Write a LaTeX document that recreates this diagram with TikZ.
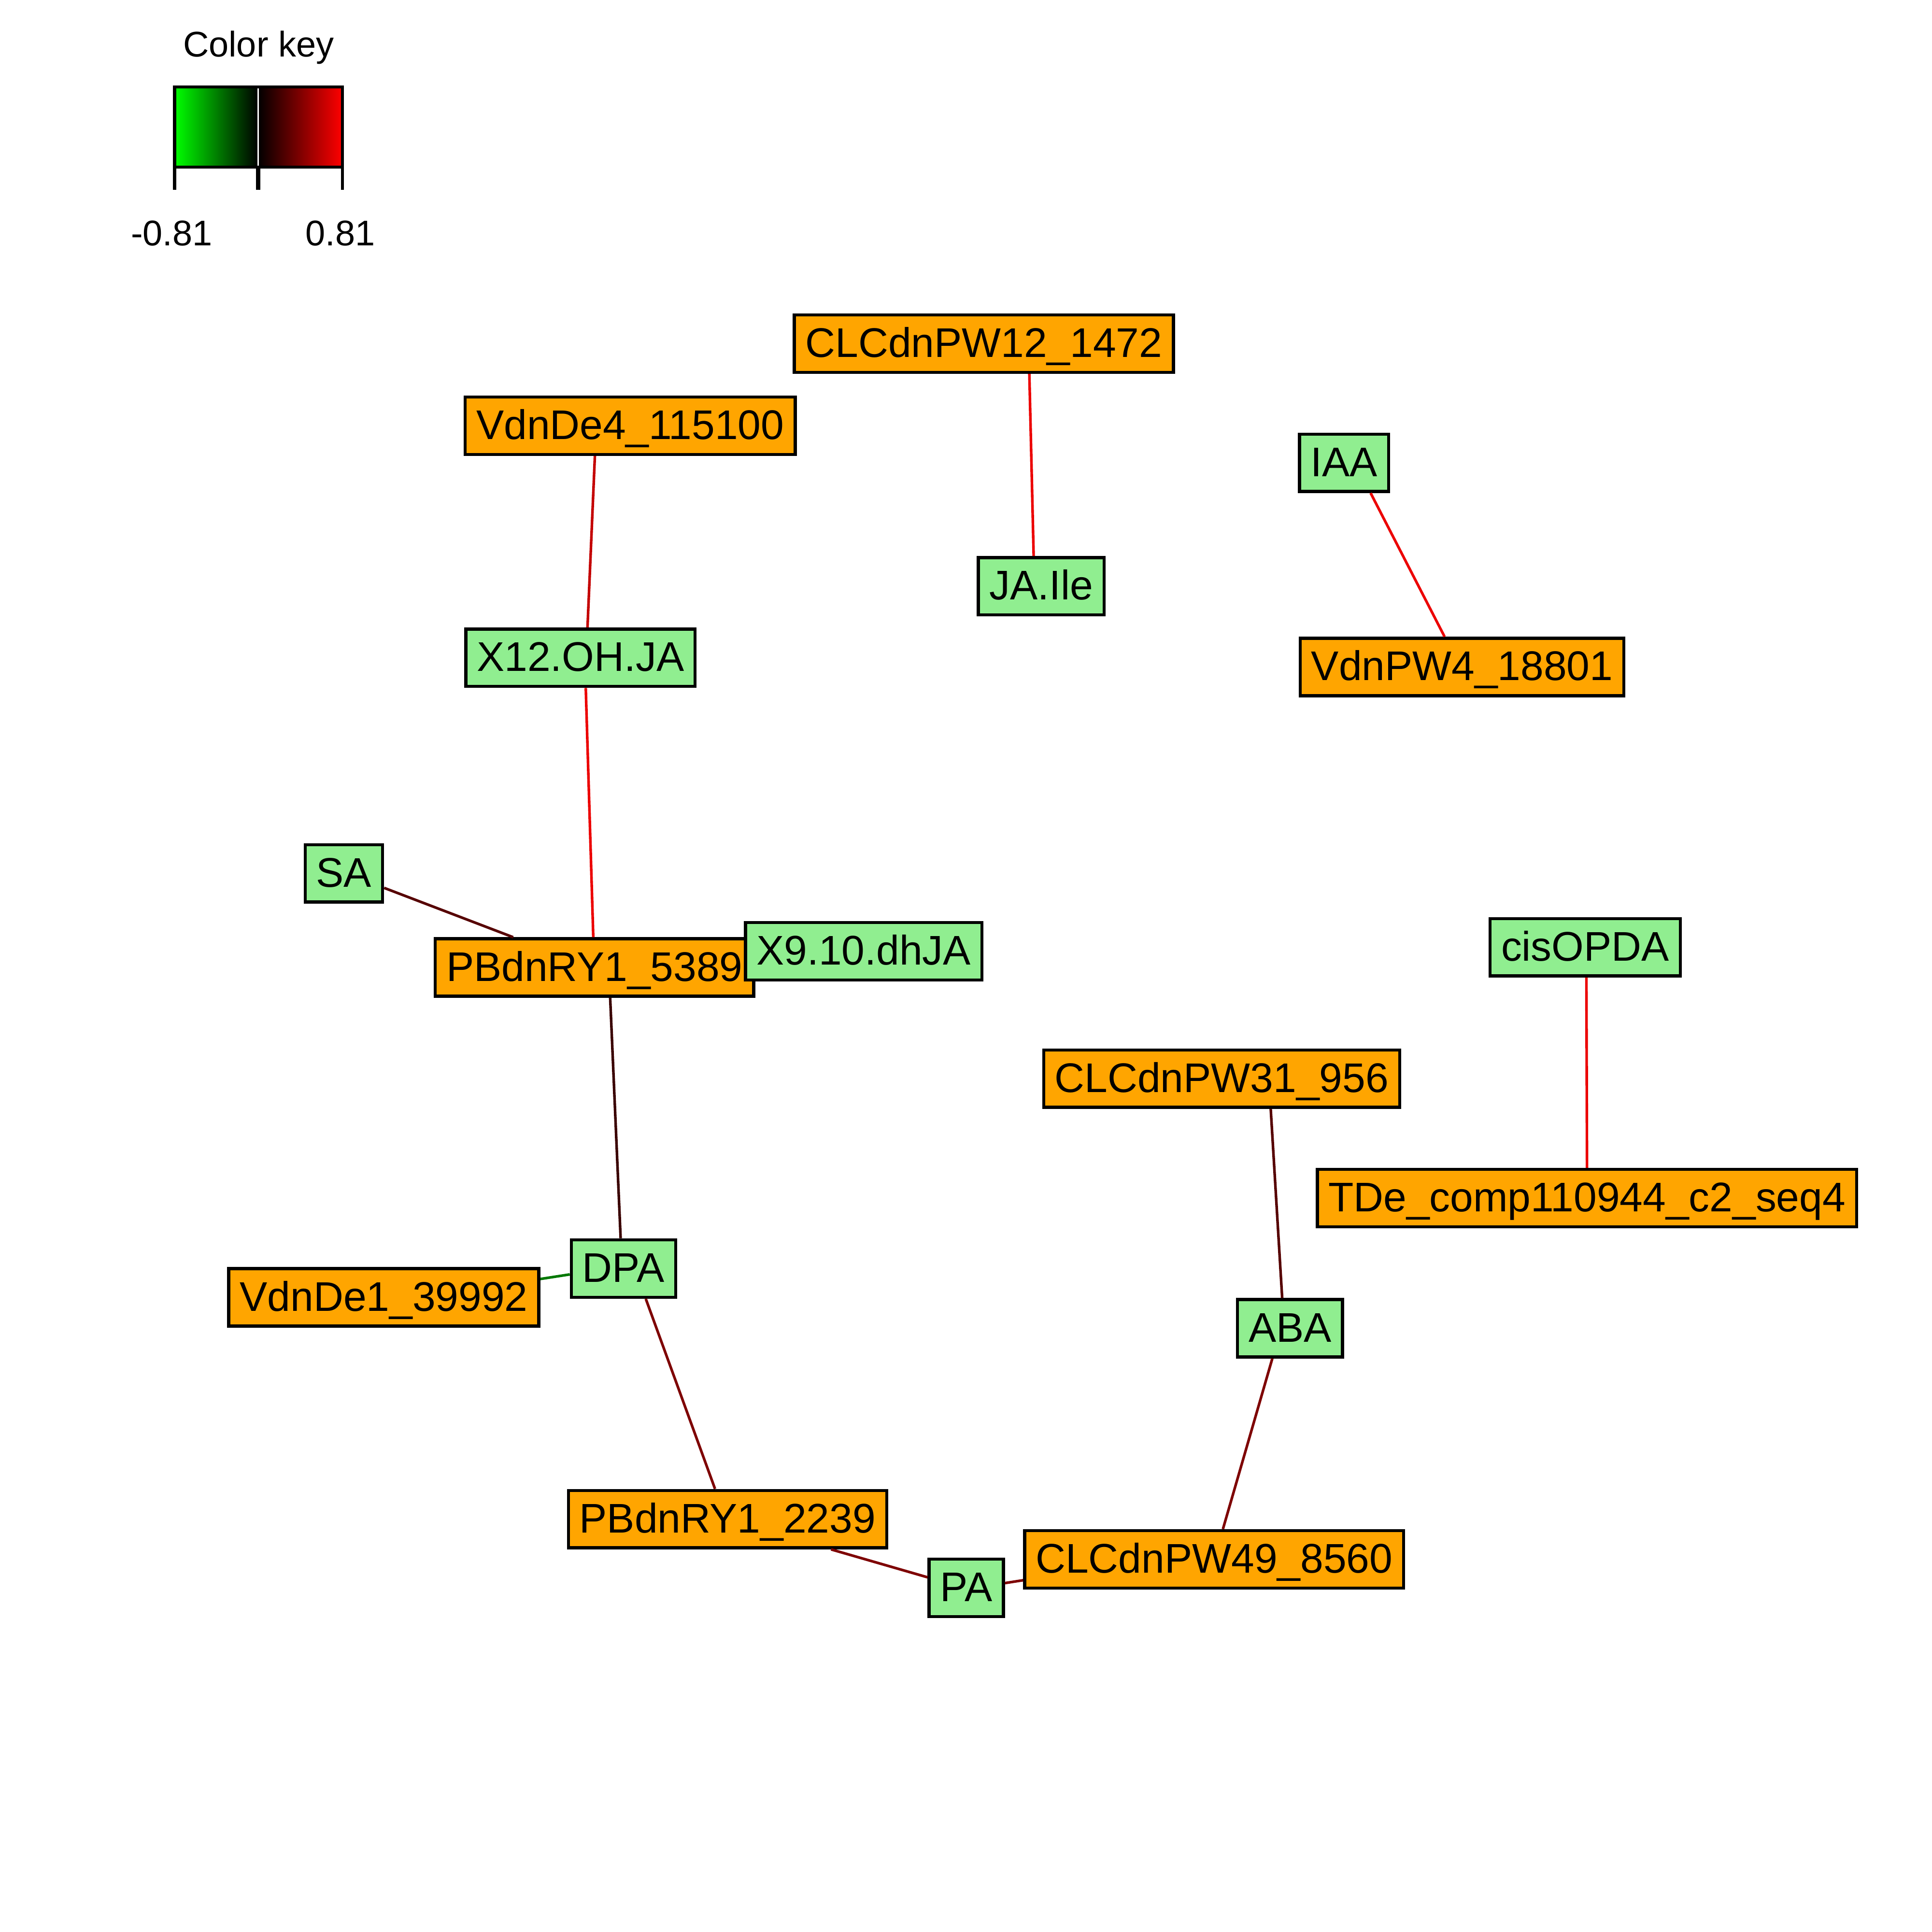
\documentclass[tikz,border=0pt]{standalone}
\usepackage{fontspec}
\setmainfont{Liberation Sans}
\usetikzlibrary{calc}
\definecolor{geneorange}{HTML}{FFA500}
\definecolor{metabgreen}{HTML}{90EE90}
\definecolor{keygreen}{HTML}{00FF00}
\definecolor{keyred}{HTML}{FF0000}
\definecolor{corrhigh}{HTML}{EC0000}
\definecolor{corrmidhigh}{HTML}{C40000}
\definecolor{corrmid}{HTML}{7E0000}
\definecolor{corrlow}{HTML}{560000}
\definecolor{corrvlow}{HTML}{3A0000}
\definecolor{corrneg}{HTML}{007800}
\begin{document}
\begin{tikzpicture}[x=0.025cm,y=-0.025cm,
  box/.style={draw=black, line width=1.8pt, rectangle,
    inner xsep=0.225cm, inner ysep=0.215cm,
    text height=0.6425cm, text depth=0.0925cm,
    font=\fontsize{23.9}{28}\selectfont},
  gene/.style={box, fill=geneorange},
  metab/.style={box, fill=metabgreen},
  link/.style={line width=1.5pt},
  keytext/.style={inner sep=0pt, font=\fontsize{20.6}{24}\selectfont},
]
\fill[white] (0,0) rectangle (1568,1568);
\useasboundingbox (0,0) rectangle (1568,1568);

% colour key
\shade[left color=keygreen, right color=black] (141.7,70.5) rectangle (209.4,135.5);
\shade[left color=black, right color=keyred] (209.4,70.5) rectangle (278,135.5);
\draw[white, line width=0.03cm] (209.4,70.5) -- (209.4,135.5);
\draw[line width=0.06cm] (141.7,70.5) rectangle (278,135.5);
\draw[line width=0.06cm] (141.7,135.5) -- (141.7,154);
\draw[line width=0.09cm] (209.4,135.5) -- (209.4,154);
\draw[line width=0.06cm] (278,135.5) -- (278,154);
\node[keytext, anchor=base] (keytitle) at (209.8,46.2) {Color key};
\node[keytext, anchor=base] (keymin) at (139.3,199.5) {-0.81};
\node[keytext, anchor=base] (keymax) at (276.2,199.5) {0.81};

% network nodes
\node[gene]  (clc12)   at (798.5,278.9)  {CLCdnPW12\_1472};
\node[gene]  (vde4)    at (511.5,345.5)  {VdnDe4\_115100};
\node[metab] (iaa)     at (1090.8,375.6) {IAA};
\node[metab] (jaile)   at (845,475.8)    {JA.Ile};
\node[metab] (x12)     at (471.1,533.8)  {X12.OH.JA};
\node[gene]  (vpw4)    at (1186.6,541.3) {VdnPW4\_18801};
\node[metab] (sa)      at (279.1,708.8)  {SA};
\node[gene]  (pb5389)  at (482.5,785.2)  {PBdnRY1\_5389};
\node[metab] (x9)      at (701,772)      {X9.10.dhJA};
\node[metab] (cisopda) at (1286.5,768.8) {cisOPDA};
\node[gene]  (clc31)   at (991.5,875.4)  {CLCdnPW31\_956};
\node[gene]  (tde)     at (1288,972.4)   {TDe\_comp110944\_c2\_seq4};
\node[metab] (dpa)     at (506,1029.5)   {DPA};
\node[gene]  (vde1)    at (311.5,1052.9) {VdnDe1\_39992};
\node[metab] (aba)     at (1047,1078)    {ABA};
\node[gene]  (pb2239)  at (590.5,1232.9) {PBdnRY1\_2239};
\node[metab] (pa)      at (784.2,1288.7) {PA};
\node[gene]  (clc49)   at (985.4,1265.6) {CLCdnPW49\_8560};

% correlation links
\draw[link, corrhigh]    ($(clc12.south)+(36.9,0)$)  -- ($(jaile.north)+(-6.1,0)$);
\draw[link, corrmidhigh] ($(vde4.south)+(-28.7,0)$)  -- ($(x12.north)+(5.7,0)$);
\draw[link, corrhigh]    ($(iaa.south)+(21.6,0)$)    -- ($(vpw4.north)+(-14.2,0)$);
\draw[link, corrhigh]    ($(x12.south)+(4.3,0)$)     -- ($(pb5389.north)+(-1,0)$);
\draw[link, corrlow]     ($(sa.east)+(0,11.8)$)      -- ($(pb5389.north)+(-66,0)$);
\draw[link, corrvlow]    ($(pb5389.south)+(12.7,0)$) -- ($(dpa.north)+(-2.3,0)$);
\draw[link, corrhigh]    ($(cisopda.south)+(1,0)$)   -- (tde.north);
\draw[link, corrlow]     ($(clc31.south)+(39.8,0)$)  -- ($(aba.north)+(-6.4,0)$);
\draw[link, corrneg]     ($(dpa.west)+(0,4.8)$)      -- ($(vde1.east)+(0,-14.9)$);
\draw[link, corrmid]     ($(dpa.south)+(18.1,0)$)    -- ($(pb2239.north)+(-10.2,0)$);
\draw[link, corrmid]     ($(aba.south)+(-14.4,0)$)   -- ($(clc49.north)+(7.1,0)$);
\draw[link, corrmid]     ($(pb2239.south)+(84,0)$)   -- ($(pa.west)+(0,-8.6)$);
\draw[link, corrmid]     ($(pa.east)+(0,-3.9)$)      -- ($(clc49.west)+(0,16.9)$);
\end{tikzpicture}
\end{document}
